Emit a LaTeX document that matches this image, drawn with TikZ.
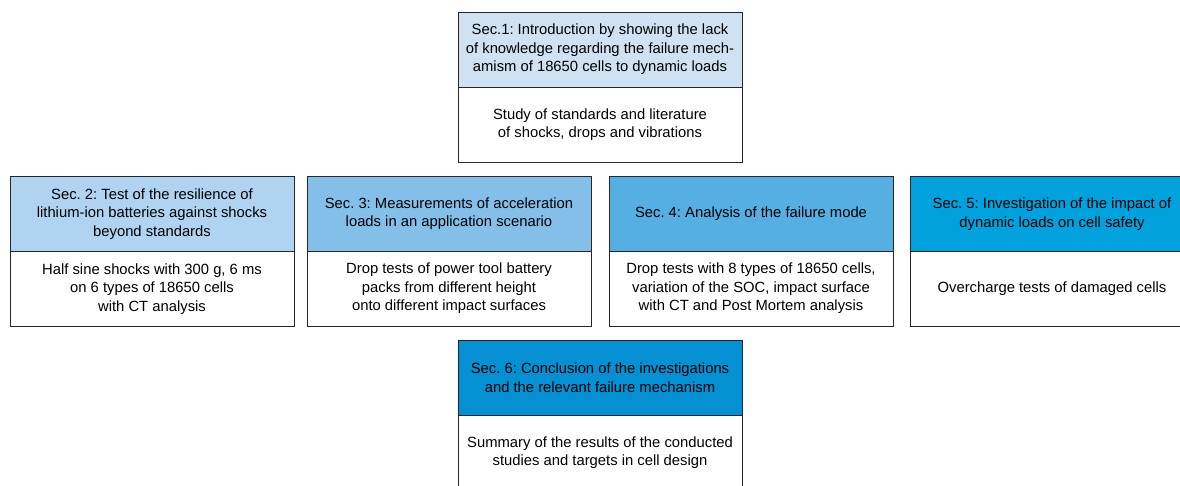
\documentclass[tikz,border=0pt]{standalone}
\usepackage{fontspec}
\setmainfont{Liberation Sans}
\usepackage{tikz}
\usetikzlibrary{
	positioning
}
\frenchspacing
\definecolor{secA}{HTML}{CFE2F3}
\definecolor{secB}{HTML}{AFD3F1}
\definecolor{secC}{HTML}{84BFEA}
\definecolor{secD}{HTML}{56AFE3}
\definecolor{secE}{HTML}{00A1DC}
\definecolor{secF}{HTML}{0590D4}

\begin{document}
\begin{tikzpicture}[x=1pt,y=-1pt,
		sec/.style={draw=black!85,line width=1pt,minimum width=284pt,minimum height=75pt,
			align=center,inner sep=0pt,outer sep=0pt,font=\fontsize{14.8}{18.5}\selectfont}
	]
		\clip (0,0) rectangle (1180,485);
		\draw
			node[sec,fill=secA,anchor=north west] (h1) at (458,12)  {Sec.1: Introduction by showing the lack\\of knowledge regarding the failure mech-\\amism of 18650 cells to dynamic loads}
			node[sec,fill=white,below=0pt of h1]  (b1)              {Study of standards and literature\\of shocks, drops and vibrations}

			node[sec,fill=secB,anchor=north west] (h2) at (10,176.5) {Sec. 2: Test of the resilience of\\lithium-ion batteries against shocks\\beyond standards}
			node[sec,fill=white,below=0pt of h2]  (b2)              {Half sine shocks with 300 g, 6 ms\\on 6 types of 18650 cells\\with CT analysis}

			node[sec,fill=secC,anchor=north west] (h3) at (307,176) {Sec. 3: Measurements of acceleration\\loads in an application scenario}
			node[sec,fill=white,below=0pt of h3]  (b3)              {Drop tests of power tool battery\\packs from different height\\onto different impact surfaces}

			node[sec,fill=secD,anchor=north west] (h4) at (609,176) {Sec. 4: Analysis of the failure mode}
			node[sec,fill=white,below=0pt of h4]  (b4)              {Drop tests with 8 types of 18650 cells,\\variation of the SOC, impact surface\\with CT and Post Mortem analysis}

			node[sec,fill=secE,anchor=north west] (h5) at (910,176.5) {Sec. 5: Investigation of the impact of\\dynamic loads on cell safety}
			node[sec,fill=white,below=0pt of h5]  (b5)              {Overcharge tests of damaged cells}

			node[sec,fill=secF,anchor=north west] (h6) at (458,340) {Sec. 6: Conclusion of the investigations\\and the relevant failure mechanism}
			node[sec,fill=white,below=0pt of h6]  (b6)              {Summary of the results of the conducted\\studies and targets in cell design}
		;
	\end{tikzpicture}
\end{document}
